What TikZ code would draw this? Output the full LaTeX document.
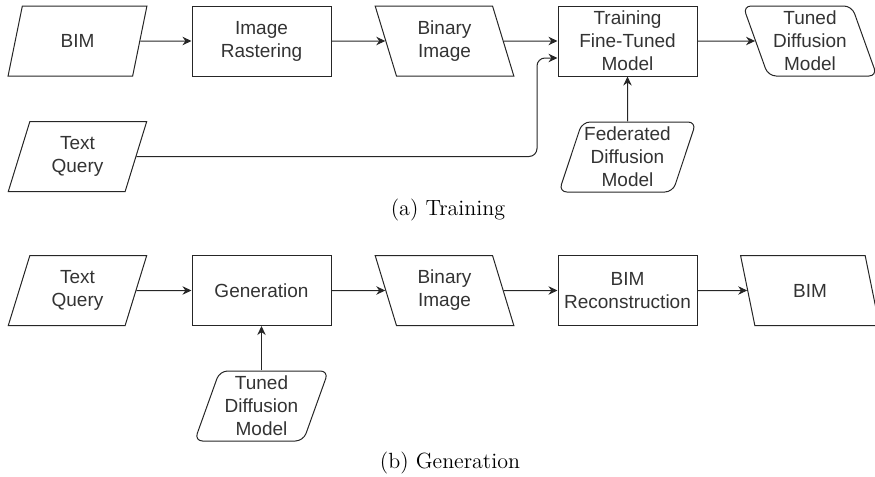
\documentclass[tikz,border=0pt]{standalone}
\usepackage{fontspec}
\newfontfamily\flowfont{Liberation Sans}
\usetikzlibrary{shapes.geometric,arrows.meta}
\tikzset{
	flow/.style={draw=black!85, text=black!80, line width=0.5pt, align=center, inner sep=1pt,%
		font=\flowfont\fontsize{9.5}{11.5}\selectfont, minimum height=35pt},
	procbox/.style={flow, minimum width=69.5pt},
	datain/.style={flow, trapezium, trapezium left angle=74, trapezium right angle=106,%
		trapezium stretches=true, minimum width=69.5pt},
	dataout/.style={datain, trapezium left angle=106, trapezium right angle=74},
	modelin/.style={datain, rounded corners=4pt, trapezium left angle=70, trapezium right angle=110, minimum width=67pt},
	modelout/.style={modelin, trapezium left angle=110, trapezium right angle=70},
	link/.style={draw=black!85, line width=0.5pt, -{Stealth[length=4.5pt,width=4.2pt]}},
	subcap/.style={font=\fontsize{11}{13}\selectfont}
}
\begin{document}
\begin{tikzpicture}[x=0.5pt,y=-0.5pt]
	\useasboundingbox (0,0) rectangle (875,477);
	% (a) training
	\node[datain] (bimA) at (77.5,41) {BIM};
	\node[procbox] (raster) at (261.5,41) {Image\\Rastering};
	\node[dataout] (binA) at (444.5,41) {Binary\\Image};
	\node[procbox] (train) at (627.5,41) {Training\\Fine-Tuned\\Model};
	\node[modelout] (tunedA) at (810,41) {Tuned\\Diffusion\\Model};
	\node[datain] (queryA) at (77.5,156.5) {Text\\Query};
	\node[modelin] (fed) at (627.5,157) {Federated\\Diffusion\\Model};
	\coordinate (bend) at (537,58);
	\draw[link] (bimA) -- (raster);
	\draw[link] (raster) -- (binA);
	\draw[link] (binA) -- (train);
	\draw[link] (train) -- (tunedA);
	\draw[link] (fed) -- (train);
	\draw[link, rounded corners=4pt] (queryA.east) -| (bend) -- (bend -| train.west);
	\node[subcap] (capA) at (448,210) {(a) Training};
	% (b) generation
	\node[datain] (queryB) at (77.5,290.5) {Text\\Query};
	\node[procbox] (gen) at (261.5,290.5) {Generation};
	\node[dataout] (binB) at (444.5,290.5) {Binary\\Image};
	\node[procbox] (recon) at (627.5,290.5) {BIM\\Reconstruction};
	\node[dataout] (bimB) at (810,290.5) {BIM};
	\node[modelin] (tunedB) at (261.5,406) {Tuned\\Diffusion\\Model};
	\draw[link] (queryB) -- (gen);
	\draw[link] (gen) -- (binB);
	\draw[link] (binB) -- (recon);
	\draw[link] (recon) -- (bimB);
	\draw[link] (tunedB) -- (gen);
	\node[subcap] (capB) at (450,463) {(b) Generation};
\end{tikzpicture}
\end{document}
